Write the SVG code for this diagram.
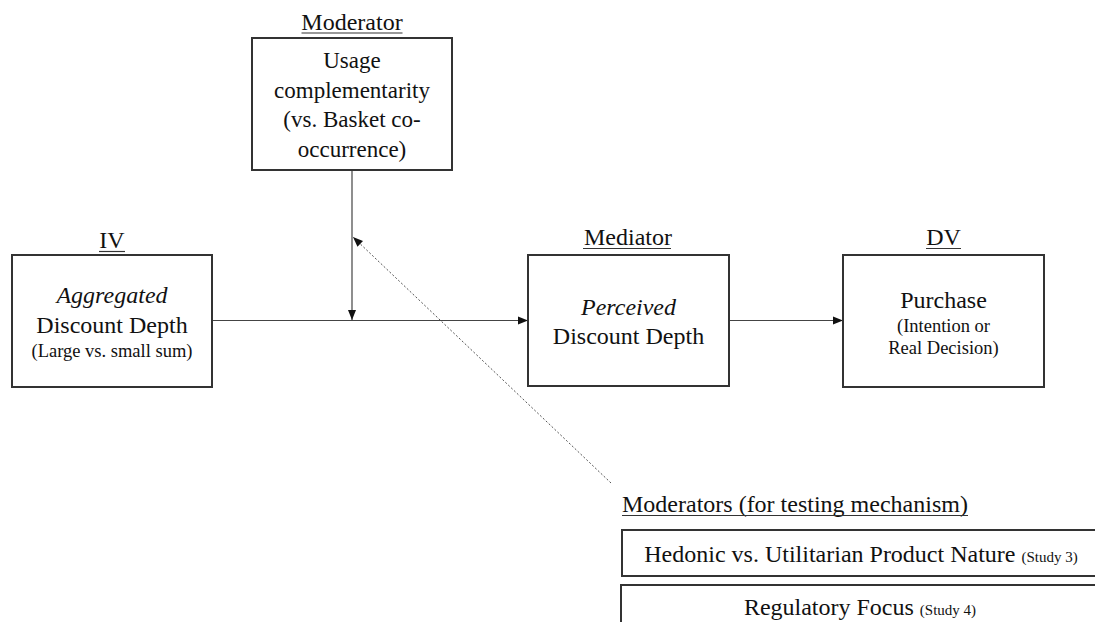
<svg xmlns="http://www.w3.org/2000/svg" width="1095" height="622" viewBox="0 0 1095 622">
<style>
text{font-family:"Liberation Serif","Times New Roman",serif;fill:#111;text-anchor:middle}
.t24{font-size:24px}
.t23{font-size:23px}
.t18{font-size:18.5px}
.it{font-style:italic}
.box{fill:#fff;stroke:#333;stroke-width:2}
.ul{stroke:#333;stroke-width:1.2}
.con{stroke:#444;stroke-width:1.2;fill:none}
.dot{stroke:#555;stroke-width:1;fill:none;stroke-dasharray:2 2}
</style>
<defs>
<marker id="ah" viewBox="0 0 10 10" refX="10" refY="5" markerWidth="10" markerHeight="10" markerUnits="userSpaceOnUse" orient="auto">
<path d="M0,1 L10,5 L0,9 Z" fill="#111"/>
</marker>
</defs>
<rect width="1095" height="622" fill="#fff"/>
<g id="connectors">
<line class="con" x1="212" y1="320.5" x2="528" y2="320.5" marker-end="url(#ah)"/>
<line class="con" x1="352" y1="170" x2="352" y2="320" marker-end="url(#ah)"/>
<line class="con" x1="729" y1="320.5" x2="843" y2="320.5" marker-end="url(#ah)"/>
<line class="dot" x1="611" y1="483" x2="353" y2="237" marker-end="url(#ah)"/>
</g>
<g id="moderator">
<text class="t24" x="352" y="30">Moderator</text>
<line class="ul" x1="301.5" y1="33" x2="402.5" y2="33"/>
<rect class="box" x="252" y="38" width="200" height="132"/>
<text class="t23" x="352" y="68">Usage</text>
<text class="t23" x="352" y="98">complementarity</text>
<text class="t23" x="352" y="127">(vs. Basket co-</text>
<text class="t23" x="352" y="157">occurrence)</text>
</g>
<g id="iv">
<text class="t24" x="112" y="248">IV</text>
<line class="ul" x1="99" y1="251.5" x2="125" y2="251.5"/>
<rect class="box" x="12" y="255" width="200" height="132"/>
<text class="t24 it" x="112" y="303">Aggregated</text>
<text class="t24" x="112" y="333">Discount Depth</text>
<text class="t18" x="112" y="357">(Large vs. small sum)</text>
</g>
<g id="mediator">
<text class="t24" x="628" y="245">Mediator</text>
<line class="ul" x1="583" y1="248.5" x2="671" y2="248.5"/>
<rect class="box" x="528" y="255" width="201" height="131"/>
<text class="t24 it" x="628.5" y="315">Perceived</text>
<text class="t24" x="628.5" y="344">Discount Depth</text>
</g>
<g id="dv">
<text class="t24" x="943.5" y="245">DV</text>
<line class="ul" x1="926" y1="248.5" x2="961" y2="248.5"/>
<rect class="box" x="843" y="255" width="201" height="132"/>
<text class="t24" x="943.5" y="308">Purchase</text>
<text class="t18" x="943.5" y="332">(Intention or</text>
<text class="t18" x="943.5" y="354">Real Decision)</text>
</g>
<g id="moderators-mechanism">
<text class="t24" x="622" y="512" style="text-anchor:start">Moderators (for testing mechanism)</text>
<line class="ul" x1="622" y1="515.5" x2="968" y2="515.5"/>
</g>
<g id="hedonic">
<rect class="box" x="622" y="530" width="480" height="46"/>
<text class="t24" x="861" y="562">Hedonic vs. Utilitarian Product Nature <tspan style="font-size:15px">(Study 3)</tspan></text>
</g>
<g id="regulatory">
<rect class="box" x="621" y="585" width="480" height="60"/>
<text class="t24" x="860" y="615">Regulatory Focus <tspan style="font-size:15px">(Study 4)</tspan></text>
</g>
</svg>
